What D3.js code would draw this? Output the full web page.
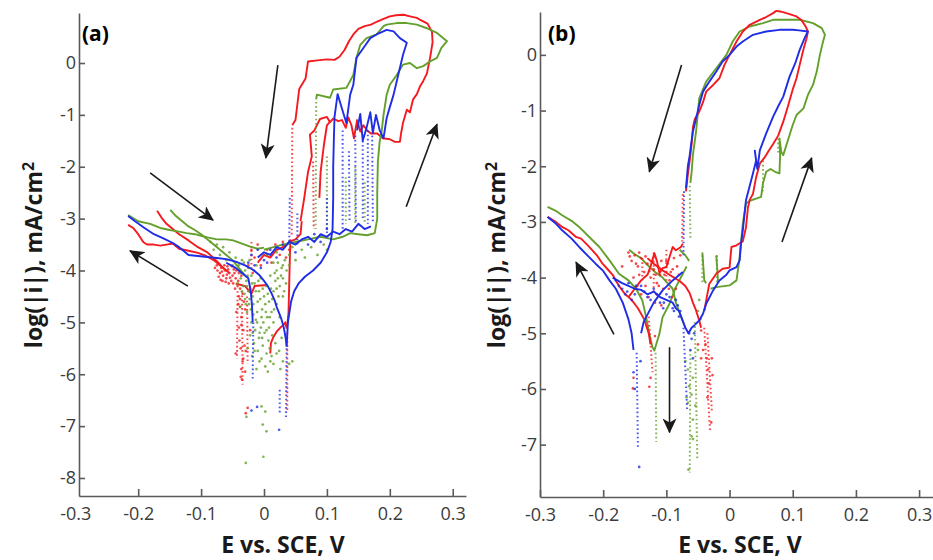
<!DOCTYPE html>
<html>
<head>
<meta charset="utf-8">
<script src="https://cdn.jsdelivr.net/npm/d3@7"></script>
<style>
  body { margin: 0; background: #fff; }
  svg { display: block; font-family: "Open Sans", sans-serif; }
</style>
</head>
<body>
<div id="chart"></div>
<script>
// ---- axis ticks ----
const xTicks = [-0.3, -0.2, -0.1, 0, 0.1, 0.2, 0.3];
const xTickLabels = ["-0.3", "-0.2", "-0.1", "0", "0.1", "0.2", "0.3"];
const aYTicks = [0, -1, -2, -3, -4, -5, -6, -7, -8];
const bYTicks = [0, -1, -2, -3, -4, -5, -6, -7];

// ---- panel (a) : [E (V), log|i|] ----
const aRedLines = [
  [[0.058,-3.05],[0.064,-2.6],[0.07,-2.1],[0.076,-1.8],[0.073,-1.38],[0.08,-1.3],[0.089,-1.08],[0.1,-1.04],[0.105,-1.14],[0.11,-1.07],[0.118,-1.12],[0.124,-1.1],[0.13,-1.25],[0.134,-1.05],[0.139,-1.2],[0.143,-1.45],[0.148,-1.1],[0.153,-1.32],[0.158,-1.2],[0.164,-1.3],[0.17,-1.36],[0.18,-1.36],[0.189,-1.45],[0.2,-1.47],[0.208,-1.52],[0.216,-1.52],[0.218,-1.35],[0.221,-1.15],[0.227,-0.9],[0.232,-0.95],[0.237,-0.7],[0.243,-0.6],[0.248,-0.45],[0.253,-0.35],[0.259,-0.2],[0.264,0.1],[0.268,0.4],[0.267,0.6],[0.26,0.76],[0.25,0.82],[0.243,0.87],[0.232,0.9],[0.222,0.93],[0.21,0.92],[0.2,0.9],[0.19,0.85],[0.18,0.8],[0.17,0.74],[0.16,0.71],[0.15,0.66],[0.142,0.55],[0.135,0.42],[0.128,0.25],[0.12,0.12],[0.112,0.06],[0.1,0.07],[0.085,0.05],[0.07,0.03],[0.066,-0.3],[0.062,-0.38],[0.056,-0.5],[0.05,-1.1],[0.045,-1.2]],
  [[0.088,-2.6],[0.09,-2.1],[0.095,-1.6],[0.1,-1.2],[0.105,-1.13]],
  [[-0.216,-3.12],[-0.208,-3.18],[-0.2,-3.3],[-0.192,-3.45],[-0.186,-3.5],[-0.175,-3.5],[-0.165,-3.52],[-0.155,-3.5],[-0.145,-3.48],[-0.135,-3.58],[-0.12,-3.62],[-0.105,-3.66],[-0.092,-3.72],[-0.08,-3.8],[-0.07,-3.9],[-0.06,-4.0]],
  [[-0.17,-2.85],[-0.163,-2.98],[-0.155,-3.1],[-0.145,-3.2],[-0.135,-3.3],[-0.12,-3.42],[-0.105,-3.55],[-0.09,-3.65],[-0.075,-3.82],[-0.065,-3.95],[-0.055,-4.05]],
  [[-0.045,-4.25],[-0.03,-4.3],[-0.02,-4.45],[-0.015,-4.3],[0.005,-4.28]],
  [[0.01,-5.6],[0.011,-5.4],[0.015,-5.28],[0.02,-5.18],[0.026,-5.1],[0.031,-5.05],[0.034,-5.0],[0.036,-5.12]],
  [[0.042,-3.4],[0.041,-3.8],[0.04,-4.3],[0.039,-4.8],[0.037,-5.05]],
  [[-0.01,-3.85],[0.0,-3.7],[0.01,-3.75],[0.02,-3.6],[0.03,-3.55],[0.04,-3.45],[0.05,-3.4],[0.058,-3.3],[0.06,-3.05]]
];
// sparse drops drawn as dotted segments
const aRedDotted = [
  [[0.045,-1.25],[0.044,-3.35]], [[0.078,-1.9],[0.079,-3.2]], [[0.037,-5.2],[0.037,-6.7]],
  [[-0.02,-3.45],[-0.02,-4.0]], [[-0.035,-4.4],[-0.034,-6.2]], [[-0.027,-4.5],[-0.026,-5.8]], [[-0.042,-4.4],[-0.043,-5.7]]
];
const aRedDots = [
  [-0.075,-3.9],[-0.07,-4.05],[-0.068,-3.95],[-0.065,-4.1],[-0.062,-4.0],[-0.06,-4.15],[-0.058,-3.92],[-0.055,-4.05],[-0.052,-4.2],[-0.05,-4.1],[-0.048,-3.98],[-0.045,-4.15],[-0.042,-4.3],[-0.04,-4.05],[-0.072,-4.12],[-0.066,-4.2],[-0.056,-4.25],[-0.046,-4.35],
  [-0.078,-3.95],[-0.074,-4.0],[-0.071,-3.88],[-0.069,-4.18],[-0.067,-4.02],[-0.063,-3.9],[-0.061,-4.22],[-0.059,-4.08],[-0.057,-3.98],[-0.054,-4.14],[-0.051,-3.92],[-0.049,-4.25],[-0.047,-4.05],[-0.044,-4.0],[-0.041,-4.2],[-0.038,-4.35],[-0.036,-4.1],[-0.034,-4.45],[-0.032,-4.6],[-0.03,-4.75],[-0.038,-4.55],[-0.041,-4.65],[-0.036,-5.05],[-0.033,-5.15],[-0.039,-5.35],[-0.031,-5.45],[-0.029,-5.55],[-0.034,-5.75],[-0.03,-5.95],[-0.037,-6.05],
  [-0.04,-4.5],[-0.038,-4.7],[-0.036,-4.9],[-0.04,-5.1],[-0.037,-5.5],[-0.033,-5.7],[-0.036,-5.9],[-0.035,-6.1],[-0.026,-6.65],[-0.029,-6.75],[-0.022,-5.15],[-0.044,-4.8],[-0.045,-5.6],
  [-0.02,-3.6],[-0.015,-3.75],[-0.01,-3.5],[-0.005,-3.9],[0.005,-3.6],[0.012,-3.85],[0.018,-3.5],[0.025,-3.7],[0.03,-3.45],[0.035,-3.75],[0.04,-3.6],[-0.025,-3.9],[-0.018,-4.05]
];
const aGreenLines = [
  [[-0.216,-2.93],[-0.2,-3.05],[-0.181,-3.1],[-0.165,-3.18],[-0.15,-3.22],[-0.135,-3.25],[-0.123,-3.28],[-0.11,-3.3],[-0.1,-3.33],[-0.09,-3.36],[-0.075,-3.4],[-0.06,-3.4],[-0.049,-3.42],[-0.035,-3.48],[-0.022,-3.54],[-0.01,-3.58],[0.0,-3.56]],
  [[-0.149,-2.83],[-0.14,-2.95],[-0.13,-3.05],[-0.12,-3.15],[-0.11,-3.22],[-0.1,-3.3],[-0.09,-3.4],[-0.08,-3.5],[-0.07,-3.6],[-0.06,-3.7],[-0.05,-3.8],[-0.04,-3.95],[-0.03,-4.1]],
  [[0.0,-3.6],[0.015,-3.55],[0.03,-3.5],[0.05,-3.45],[0.07,-3.4],[0.09,-3.35],[0.11,-3.4],[0.125,-3.35],[0.137,-3.28],[0.15,-3.3],[0.164,-3.32],[0.176,-3.28],[0.18,-3.0],[0.18,-2.5],[0.181,-1.9],[0.184,-1.5],[0.187,-1.32],[0.19,-1.0],[0.195,-0.61],[0.2,-0.42],[0.211,-0.23],[0.221,-0.03],[0.232,0.0],[0.243,-0.1],[0.253,-0.06],[0.264,0.03],[0.275,0.1],[0.282,0.29],[0.291,0.42],[0.288,0.45],[0.275,0.58],[0.259,0.67],[0.243,0.74],[0.227,0.77],[0.211,0.77],[0.195,0.74],[0.19,0.71],[0.179,0.55],[0.163,0.48],[0.153,0.35],[0.147,0.1],[0.142,-0.23],[0.131,-0.48],[0.11,-0.51],[0.105,-0.67],[0.084,-0.61],[0.083,-0.7]]
];
const aGreenDotted = [
  [[0.083,-0.75],[0.082,-3.2]], [[0.1,-1.8],[0.1,-3.2]], [[0.13,-2.2],[0.13,-3.1]], [[0.145,-2.0],[0.145,-3.1]], [[0.16,-2.3],[0.16,-3.1]]
];
const aGreenDots = [
  [-0.045,-3.75],[-0.04,-3.9],[-0.036,-4.05],[-0.032,-3.85],[-0.028,-4.2],[-0.025,-3.95],[-0.022,-4.35],[-0.02,-4.1],[-0.018,-4.5],[-0.015,-4.25],[-0.012,-3.9],[-0.01,-4.6],[-0.008,-4.4],[-0.005,-4.15],[-0.003,-4.75],[0.0,-4.5],[0.003,-4.3],[0.005,-4.9],[0.008,-4.6],[0.01,-4.1],[0.012,-4.8],[0.015,-4.4],[0.018,-4.2],[0.02,-4.0],[0.022,-3.85],[0.025,-4.3],[0.028,-3.95],[0.03,-4.15],[0.033,-3.8],
  [-0.03,-4.55],[-0.027,-4.8],[-0.024,-4.65],[-0.02,-5.0],[-0.017,-4.85],[-0.014,-5.15],[-0.011,-5.0],[-0.008,-5.3],[-0.005,-5.1],[-0.002,-5.45],[0.001,-5.2],[0.004,-5.6],[0.007,-5.35],[0.01,-5.75],[0.002,-5.85],[-0.004,-5.7],[-0.01,-5.55],[-0.016,-5.4],[-0.022,-5.25],[-0.026,-5.5],[-0.012,-5.9],[0.006,-5.95],[-0.035,-4.4],[-0.038,-4.7],[-0.042,-4.25],[0.015,-5.0],[0.02,-4.65],[0.025,-4.9],[0.03,-4.5],[0.035,-4.25],[0.02,-5.6],[0.03,-5.75],[0.04,-5.8],[0.045,-5.75],
  [-0.04,-4.0],[-0.035,-3.8],[-0.03,-4.0],[-0.026,-4.1],[-0.023,-3.8],[-0.019,-4.25],[-0.016,-4.0],[-0.013,-4.4],[-0.009,-4.2],[-0.006,-4.55],[-0.002,-4.35],[0.002,-4.65],[0.006,-4.45],[0.009,-4.9],[0.013,-4.55],[0.016,-4.75],[0.02,-4.35],[0.023,-4.5],[0.027,-4.1],[0.032,-4.4],[0.036,-4.0],[0.04,-3.9],[-0.033,-4.3],[-0.029,-4.65],[-0.025,-4.4],[-0.021,-4.75],[-0.018,-5.2],[-0.013,-4.95],[-0.007,-5.2],[-0.001,-5.0],[0.004,-5.15],[0.009,-5.5],[0.013,-5.25],[0.018,-5.4],[0.024,-5.55],[0.028,-5.3],[-0.019,-5.65],[-0.007,-5.75],[0.015,-5.8],[0.026,-5.9],
  [-0.037,-4.15],[-0.031,-4.45],[-0.027,-4.3],[-0.023,-4.55],[-0.017,-4.65],[-0.011,-4.8],[-0.004,-4.9],[0.003,-4.8],[0.011,-4.35],[0.017,-4.05],[0.022,-4.15],[0.008,-5.1],[-0.015,-5.55],[-0.003,-5.3],[0.012,-5.65],
  [-0.028,-6.82],[-0.004,-6.62],[0.002,-6.72],[-0.002,-6.97],[0.004,-7.1],[-0.001,-7.59],[-0.029,-7.71],
  [-0.085,-3.45],[-0.08,-3.6],[-0.075,-3.5],[-0.07,-3.7],[-0.065,-3.55],[-0.06,-3.8],[-0.055,-3.65],[-0.05,-3.9],
  [0.005,-3.7],[0.015,-3.85],[0.02,-3.65],[0.03,-3.9],[0.04,-3.7],[0.045,-3.55],[0.05,-3.8],[0.06,-3.6],[0.065,-3.75],[0.075,-3.55],[0.085,-3.7],[0.095,-3.5],[0.1,-3.6]
];
const aBlueLines = [
  [[0.036,-5.45],[0.038,-5.0],[0.043,-4.6],[0.048,-4.4],[0.055,-4.25],[0.065,-4.12],[0.078,-4.0],[0.09,-3.85],[0.1,-3.65],[0.106,-3.45],[0.109,-3.2],[0.11,-2.6],[0.11,-2.0],[0.111,-1.5],[0.112,-1.05],[0.117,-0.6],[0.124,-0.88],[0.131,-1.16],[0.137,-0.61],[0.142,-0.42],[0.147,0.1],[0.158,0.29],[0.169,0.48],[0.179,0.55],[0.195,0.64],[0.206,0.61],[0.216,0.48],[0.227,0.39],[0.221,0.16],[0.211,-0.35],[0.206,-0.61],[0.2,-0.85],[0.195,-1.06],[0.19,-1.45],[0.184,-1.3],[0.178,-1.0],[0.173,-1.35],[0.169,-0.95],[0.163,-1.25],[0.157,-1.5],[0.153,-0.98],[0.148,-1.3]],
  [[-0.216,-2.95],[-0.205,-3.05],[-0.19,-3.18],[-0.175,-3.3],[-0.16,-3.38],[-0.145,-3.47],[-0.135,-3.55],[-0.128,-3.62],[-0.12,-3.7],[-0.105,-3.72],[-0.09,-3.74],[-0.075,-3.76],[-0.06,-3.78],[-0.045,-3.83],[-0.03,-3.9],[-0.017,-3.99],[-0.008,-4.08],[0.0,-4.2],[0.006,-4.3],[0.012,-4.44],[0.017,-4.58],[0.02,-4.7],[0.025,-4.85],[0.028,-4.95],[0.031,-5.08],[0.033,-5.2],[0.035,-5.35],[0.036,-5.47]],
  [[-0.06,-3.85],[-0.045,-3.95],[-0.035,-4.05],[-0.025,-4.15],[-0.021,-4.4],[-0.019,-4.7],[-0.018,-5.0]],
  [[-0.01,-3.75],[0.0,-3.65],[0.01,-3.7],[0.02,-3.55],[0.03,-3.6],[0.04,-3.45],[0.05,-3.5],[0.06,-3.4],[0.07,-3.35],[0.08,-3.45],[0.09,-3.3],[0.1,-3.35],[0.11,-3.25],[0.12,-3.3],[0.13,-3.2],[0.14,-3.25],[0.15,-3.1],[0.16,-3.2],[0.17,-3.15]]
];
const aBlueDotted = [
  [[0.041,-2.6],[0.04,-3.5]], [[0.053,-2.9],[0.053,-3.5]], [[0.1,-2.6],[0.1,-3.3]],
  [[0.125,-1.3],[0.125,-3.2]], [[0.135,-1.7],[0.136,-3.05]], [[0.145,-1.4],[0.146,-3.05]],
  [[0.157,-1.5],[0.157,-3.0]], [[0.165,-1.3],[0.165,-3.1]], [[0.172,-1.4],[0.173,-3.1]],
  [[0.036,-5.5],[0.035,-6.85]], [[0.025,-6.3],[0.025,-6.75]], [[-0.017,-5.0],[-0.018,-6.1]]
];
const aBlueDots = [
  [0.024,-7.07],[-0.011,-6.63],[-0.02,-6.7],
  [0.0,-3.8],[0.01,-3.6],[0.02,-3.75],[0.03,-3.5],[0.05,-3.65],[0.07,-3.5],[0.08,-3.3],[0.09,-3.45],[0.1,-3.2],
  [-0.025,-3.85],[-0.02,-3.7],[-0.015,-3.9],[-0.01,-3.6],[-0.005,-3.95],[0.005,-3.85]
];
// arrows: [E0, log0, E1, log1], head at the second point
const aArrows = [[0.022,-0.04,0.003,-1.83],[-0.181,-2.12,-0.081,-3.03],[-0.121,-4.30,-0.213,-3.62],[0.226,-2.77,0.275,-1.18]];

// ---- panel (b) ----
const bRedLines = [
  [[-0.04,-4.6],[-0.036,-4.35],[-0.032,-4.11],[-0.021,-3.93],[-0.011,-3.84],[0.0,-3.82],[0.003,-3.45],[0.011,-3.42],[0.021,-3.35],[0.026,-3.1],[0.029,-2.75],[0.032,-2.6],[0.037,-2.5],[0.042,-2.2],[0.048,-1.95],[0.055,-1.85],[0.062,-1.72],[0.069,-1.6],[0.077,-1.45],[0.085,-1.2],[0.093,-0.9],[0.1,-0.62],[0.106,-0.42],[0.111,-0.18],[0.117,0.1],[0.122,0.3],[0.124,0.42],[0.12,0.52],[0.114,0.62],[0.106,0.69],[0.09,0.75],[0.08,0.78],[0.074,0.79],[0.069,0.75],[0.058,0.68],[0.048,0.63],[0.032,0.54],[0.021,0.42],[0.011,0.24],[0.0,0.0],[-0.008,-0.18],[-0.016,-0.42],[-0.026,-0.54],[-0.037,-0.66],[-0.042,-0.85],[-0.048,-1.02],[-0.055,-1.15],[-0.058,-1.3],[-0.06,-1.6],[-0.063,-1.89],[-0.066,-2.15],[-0.069,-2.45]],
  [[-0.074,-3.39],[-0.077,-3.45],[-0.085,-3.51],[-0.09,-3.45],[-0.095,-3.63],[-0.1,-3.81],[-0.106,-3.83],[-0.111,-3.92],[-0.115,-3.7],[-0.119,-3.56],[-0.125,-3.8],[-0.13,-3.95],[-0.14,-4.05],[-0.15,-4.2],[-0.16,-4.35]],
  [[-0.13,-3.65],[-0.12,-3.75],[-0.106,-3.87],[-0.095,-3.95],[-0.079,-4.06],[-0.07,-4.15],[-0.063,-4.28],[-0.058,-4.45],[-0.053,-4.59],[-0.048,-4.77],[-0.045,-4.9]],
  [[-0.288,-2.91],[-0.275,-3.0],[-0.265,-3.09],[-0.255,-3.15],[-0.243,-3.27],[-0.235,-3.3],[-0.227,-3.39],[-0.217,-3.51],[-0.21,-3.6],[-0.201,-3.75],[-0.193,-3.85],[-0.185,-3.95],[-0.175,-4.15],[-0.165,-4.3],[-0.155,-4.4],[-0.145,-4.55],[-0.135,-4.75],[-0.128,-5.0],[-0.125,-5.2]]
];
const bRedDotted = [
  [[-0.074,-2.5],[-0.075,-3.35]], [[-0.12,-3.55],[-0.12,-4.25]], [[-0.138,-3.65],[-0.138,-4.05]], [[-0.1,-3.5],[-0.1,-4.05]],
  [[-0.128,-4.7],[-0.122,-5.7]], [[-0.04,-4.9],[-0.031,-6.75]], [[-0.035,-5.0],[-0.028,-6.4]]
];
const bRedDots = [
  [-0.16,-3.55],[-0.155,-3.7],[-0.15,-3.6],[-0.145,-3.8],[-0.14,-3.65],[-0.135,-3.9],[-0.13,-3.75],[-0.125,-4.0],[-0.12,-3.85],[-0.115,-4.1],[-0.11,-3.95],[-0.105,-4.2],[-0.1,-3.7],[-0.095,-4.05],[-0.09,-3.85],[-0.085,-4.2],[-0.08,-3.95],[-0.152,-4.0],[-0.146,-4.15],[-0.14,-4.3],[-0.128,-4.35],[-0.118,-4.45],[-0.108,-4.5],[-0.17,-3.8],
  [-0.158,-3.62],[-0.148,-3.75],[-0.143,-3.55],[-0.133,-3.62],[-0.127,-3.88],[-0.122,-3.7],[-0.117,-3.95],[-0.113,-3.8],[-0.108,-3.7],[-0.103,-3.95],[-0.098,-3.75],[-0.093,-3.9],[-0.088,-3.65],[-0.083,-3.8],[-0.078,-3.6],[-0.115,-4.3],[-0.112,-4.15],[-0.096,-4.2],[-0.091,-4.35],[-0.133,-4.15],[-0.143,-3.95],
  [-0.118,-5.05],[-0.127,-5.96],[-0.153,-5.99],[-0.152,-5.8],[-0.125,-5.8],
  [-0.045,-4.95],[-0.042,-5.3],[-0.038,-5.2],[-0.036,-5.45],[-0.034,-5.65],[-0.033,-5.9],[-0.035,-6.15],[-0.029,-6.6],[-0.028,-5.45],[-0.027,-5.75],[-0.045,-5.45],[-0.05,-5.2]
];
const bGreenLines = [
  [[-0.03,-4.2],[-0.021,-4.17],[0.0,-4.14],[0.011,-4.05],[0.014,-3.8],[0.016,-3.63],[0.021,-3.03],[0.026,-2.67],[0.032,-2.62],[0.042,-2.58],[0.05,-2.55],[0.053,-2.3],[0.058,-2.1],[0.065,-2.05],[0.072,-2.1],[0.079,-2.13],[0.08,-1.8],[0.079,-1.5],[0.082,-1.75],[0.085,-1.8],[0.09,-1.62],[0.1,-1.26],[0.106,-1.08],[0.117,-0.96],[0.124,-0.72],[0.132,-0.54],[0.138,-0.3],[0.143,0.0],[0.148,0.24],[0.151,0.36],[0.146,0.48],[0.132,0.57],[0.111,0.63],[0.09,0.63],[0.069,0.63],[0.053,0.57],[0.032,0.51],[0.016,0.42],[0.005,0.24],[-0.005,0.0],[-0.021,-0.24],[-0.037,-0.48],[-0.048,-0.78],[-0.053,-1.38],[-0.058,-1.8],[-0.06,-2.1],[-0.062,-2.3]],
  [[-0.288,-2.73],[-0.275,-2.8],[-0.265,-2.88],[-0.25,-2.98],[-0.238,-3.09],[-0.222,-3.27],[-0.206,-3.45],[-0.19,-3.69],[-0.175,-3.93],[-0.16,-4.05],[-0.148,-4.2],[-0.138,-4.41],[-0.132,-4.71],[-0.127,-5.01],[-0.122,-5.25],[-0.119,-5.31],[-0.111,-5.01],[-0.106,-4.71],[-0.095,-4.47],[-0.085,-4.17],[-0.074,-3.93],[-0.068,-3.8]],
  [[-0.159,-3.5],[-0.15,-3.58],[-0.14,-3.65],[-0.132,-3.75],[-0.12,-3.88],[-0.106,-4.0],[-0.09,-4.2],[-0.085,-4.45],[-0.08,-4.6],[-0.075,-4.75],[-0.07,-4.9]],
  [[-0.079,-3.5],[-0.07,-3.6],[-0.064,-3.7]],
  [[-0.043,-3.55],[-0.04,-4.05],[-0.037,-4.1]],
  [[-0.021,-3.6],[-0.018,-4.1]]
];
const bGreenDotted = [
  [[-0.063,-2.35],[-0.062,-3.3]], [[-0.117,-5.35],[-0.116,-6.95]], [[-0.062,-5.3],[-0.063,-7.5]], [[-0.055,-4.8],[-0.051,-7.25]],
  [[-0.043,-3.6],[-0.043,-4.1]], [[-0.02,-3.6],[-0.02,-4.1]], [[0.053,-1.9],[0.053,-2.45]], [[0.077,-1.5],[0.077,-1.8]]
];
const bGreenDots = [
  [-0.07,-5.5],[-0.066,-5.65],[-0.058,-5.8],[-0.064,-5.95],[-0.06,-6.1],[-0.066,-6.25],[-0.058,-6.55],[-0.06,-6.85],[-0.065,-7.45],[-0.068,-6.15],[-0.05,-5.3],[-0.05,-4.6],[-0.048,-4.4],[-0.046,-4.75],[-0.054,-6.3],[-0.058,-6.9]
];
const bBlueLines = [
  [[-0.055,-4.85],[-0.048,-4.77],[-0.042,-4.65],[-0.037,-4.47],[-0.026,-4.23],[-0.016,-4.05],[-0.005,-3.95],[0.0,-3.87],[0.011,-3.81],[0.016,-3.69],[0.018,-3.4],[0.021,-3.15],[0.026,-2.61],[0.032,-2.35],[0.037,-2.13],[0.042,-1.9],[0.04,-1.72],[0.044,-2.05],[0.048,-1.71],[0.058,-1.41],[0.069,-1.11],[0.078,-0.9],[0.085,-0.75],[0.095,-0.39],[0.104,-0.15],[0.111,0.09],[0.118,0.28],[0.124,0.42],[0.11,0.44],[0.1,0.45],[0.079,0.45],[0.058,0.42],[0.037,0.36],[0.021,0.24],[0.011,0.15],[0.0,0.0],[-0.011,-0.12],[-0.021,-0.3],[-0.032,-0.48],[-0.042,-0.66],[-0.048,-0.9],[-0.053,-1.14],[-0.058,-1.38],[-0.061,-1.62],[-0.063,-1.8],[-0.066,-2.0],[-0.069,-2.4]],
  [[-0.288,-2.91],[-0.275,-3.03],[-0.265,-3.15],[-0.25,-3.3],[-0.238,-3.45],[-0.225,-3.6],[-0.212,-3.75],[-0.2,-3.88],[-0.19,-4.05],[-0.18,-4.2],[-0.169,-4.45],[-0.16,-4.75],[-0.155,-5.0],[-0.152,-5.3]],
  [[-0.185,-4.0],[-0.17,-4.1],[-0.16,-4.15],[-0.15,-4.2],[-0.14,-4.22],[-0.13,-4.3],[-0.12,-4.25],[-0.11,-4.35],[-0.1,-4.4],[-0.09,-4.45],[-0.085,-4.55],[-0.08,-4.6],[-0.075,-4.75],[-0.07,-4.9],[-0.065,-5.0],[-0.06,-4.9],[-0.055,-4.85]],
  [[-0.14,-5.0],[-0.136,-4.8],[-0.132,-4.71],[-0.12,-4.45],[-0.106,-4.23],[-0.09,-4.05],[-0.074,-3.9]]
];
const bBlueDotted = [
  [[-0.072,-2.45],[-0.073,-3.6]], [[-0.147,-5.35],[-0.145,-7.05]], [[-0.073,-4.9],[-0.067,-6.4]]
];
const bBlueDots = [
  [-0.143,-7.4],[-0.152,-5.7],[-0.15,-6.0],[-0.141,-5.5],
  [-0.18,-4.05],[-0.17,-4.2],[-0.16,-4.1],[-0.15,-4.3],[-0.14,-4.15],[-0.13,-4.35],[-0.12,-4.2],[-0.11,-4.45],[-0.1,-4.3],[-0.09,-4.55],[-0.085,-4.4],[-0.08,-4.7],[-0.165,-4.3],[-0.155,-4.4],[-0.105,-4.55],
  [-0.175,-4.15],[-0.162,-4.25],[-0.148,-4.15],[-0.135,-4.25],[-0.125,-4.4],[-0.115,-4.3],[-0.104,-4.45],[-0.095,-4.35],[-0.088,-4.6],[-0.082,-4.5],[-0.078,-4.6],
  [-0.062,-5.3],[-0.06,-5.1],[-0.058,-5.45],[-0.064,-5.0],[-0.056,-5.0]
];
const bArrows = [[-0.076,-0.18,-0.127,-2.10],[0.083,-3.36,0.13,-1.85],[-0.183,-5.02,-0.243,-3.72],[-0.095,-5.25,-0.095,-6.78]];

const red = "#f41a1f", green = "#64a02c", blue = "#1f2de6";

const width = 933, height = 560;
const svg = d3.select("#chart").append("svg")
  .attr("width", width)
  .attr("height", height);

svg.append("defs").append("marker")
  .attr("id", "head")
  .attr("viewBox", "0 -7 15 14")
  .attr("refX", 14).attr("refY", 0)
  .attr("markerWidth", 15).attr("markerHeight", 14)
  .attr("markerUnits", "userSpaceOnUse")
  .attr("orient", "auto")
  .append("path")
  .attr("d", "M0,-7L15,0L0,7L4,0Z")
  .attr("fill", "#1a1a1a");

function drawPanel(p) {
  const g = svg.append("g");
  const x = d3.scaleLinear().domain(p.xDomain).range(p.xRange);
  const y = d3.scaleLinear().domain(p.yDomain).range(p.yRange);
  const line = d3.line().x(d => x(d[0])).y(d => y(d[1]));

  p.series.forEach(s => {
    g.append("g").selectAll("path")
      .data(s.dotted)
      .join("path")
        .attr("d", line)
        .attr("fill", "none")
        .attr("stroke", s.color)
        .attr("stroke-width", 2)
        .attr("stroke-dasharray", "1.6 2.6")
        .attr("opacity", 0.8);
    g.append("g").selectAll("circle")
      .data(s.dots)
      .join("circle")
        .attr("cx", d => x(d[0]))
        .attr("cy", d => y(d[1]))
        .attr("r", 1.35)
        .attr("fill", s.color)
        .attr("opacity", 0.8);
    g.append("g").selectAll("path")
      .data(s.lines)
      .join("path")
        .attr("d", line)
        .attr("fill", "none")
        .attr("stroke", s.color)
        .attr("stroke-width", 1.9)
        .attr("stroke-linejoin", "round");
  });

  g.append("g").selectAll("line")
    .data(p.arrows)
    .join("line")
      .attr("x1", d => x(d[0])).attr("y1", d => y(d[1]))
      .attr("x2", d => x(d[2])).attr("y2", d => y(d[3]))
      .attr("stroke", "#1a1a1a")
      .attr("stroke-width", 1.6)
      .attr("marker-end", "url(#head)");

  // axes, ticks pointing inward
  const xAxis = g.append("g")
    .attr("transform", `translate(0,${p.yRange[0]})`)
    .call(d3.axisBottom(x).tickValues(xTicks)
      .tickFormat((d, i) => xTickLabels[i])
      .tickSizeInner(-7).tickSizeOuter(0).tickPadding(11));
  xAxis.selectAll(".tick").filter(d => d < p.xDomain[0]).select("line").remove();

  const yAxis = g.append("g")
    .attr("transform", `translate(${p.xRange[0]},0)`)
    .call(d3.axisLeft(y).tickValues(p.yTicks)
      .tickFormat(d => d === 0 ? "0" : "-" + Math.abs(d))
      .tickSizeInner(-6).tickSizeOuter(0).tickPadding(3));

  [xAxis, yAxis].forEach(a => {
    a.select(".domain").attr("stroke", "#5a5a5a").attr("stroke-width", 1.6);
    a.selectAll(".tick line").attr("stroke", "#5a5a5a").attr("stroke-width", 1.6);
    a.selectAll(".tick text").attr("fill", "#3c3c3c").style("font-size", "18px")
      .style("font-family", '"Open Sans", sans-serif');
  });

  g.append("text")
    .attr("x", p.labelX).attr("y", 41)
    .attr("font-size", 21).attr("font-weight", "bold")
    .text(p.label);

  g.append("text")
    .attr("x", p.xTitleX).attr("y", 553)
    .attr("text-anchor", "middle")
    .attr("font-size", 23).attr("font-weight", "bold")
    .attr("fill", "#1a1a1a")
    .text("E vs. SCE, V");

  const yt = g.append("text")
    .attr("transform", `translate(${p.yTitleX},255) rotate(-90)`)
    .attr("text-anchor", "middle")
    .attr("font-size", 23).attr("font-weight", "bold")
    .attr("fill", "#1a1a1a");
  yt.append("tspan").text("log(|i|), mA/cm");
  yt.append("tspan").attr("dy", "-0.5em").attr("font-size", 16).text("2");
}

drawPanel({
  xDomain: [-0.2941, 0.3211], xRange: [79, 466],
  yDomain: [-8.347, 0.964], yRange: [496, 13],
  yTicks: aYTicks,
  series: [
    {color: red, lines: aRedLines, dotted: aRedDotted, dots: aRedDots},
    {color: green, lines: aGreenLines, dotted: aGreenDotted, dots: aGreenDots},
    {color: blue, lines: aBlueLines, dotted: aBlueDotted, dots: aBlueDots}
  ],
  arrows: aArrows,
  label: "(a)", labelX: 82,
  xTitleX: 283, yTitleX: 42
});

drawPanel({
  xDomain: [-0.3, 0.322], xRange: [540, 933],
  yDomain: [-7.94, 0.77], yRange: [497, 12],
  yTicks: bYTicks,
  series: [
    {color: green, lines: bGreenLines, dotted: bGreenDotted, dots: bGreenDots},
    {color: red, lines: bRedLines, dotted: bRedDotted, dots: bRedDots},
    {color: blue, lines: bBlueLines, dotted: bBlueDotted, dots: bBlueDots}
  ],
  arrows: bArrows,
  label: "(b)", labelX: 548,
  xTitleX: 740, yTitleX: 505
});
</script>
</body>
</html>
